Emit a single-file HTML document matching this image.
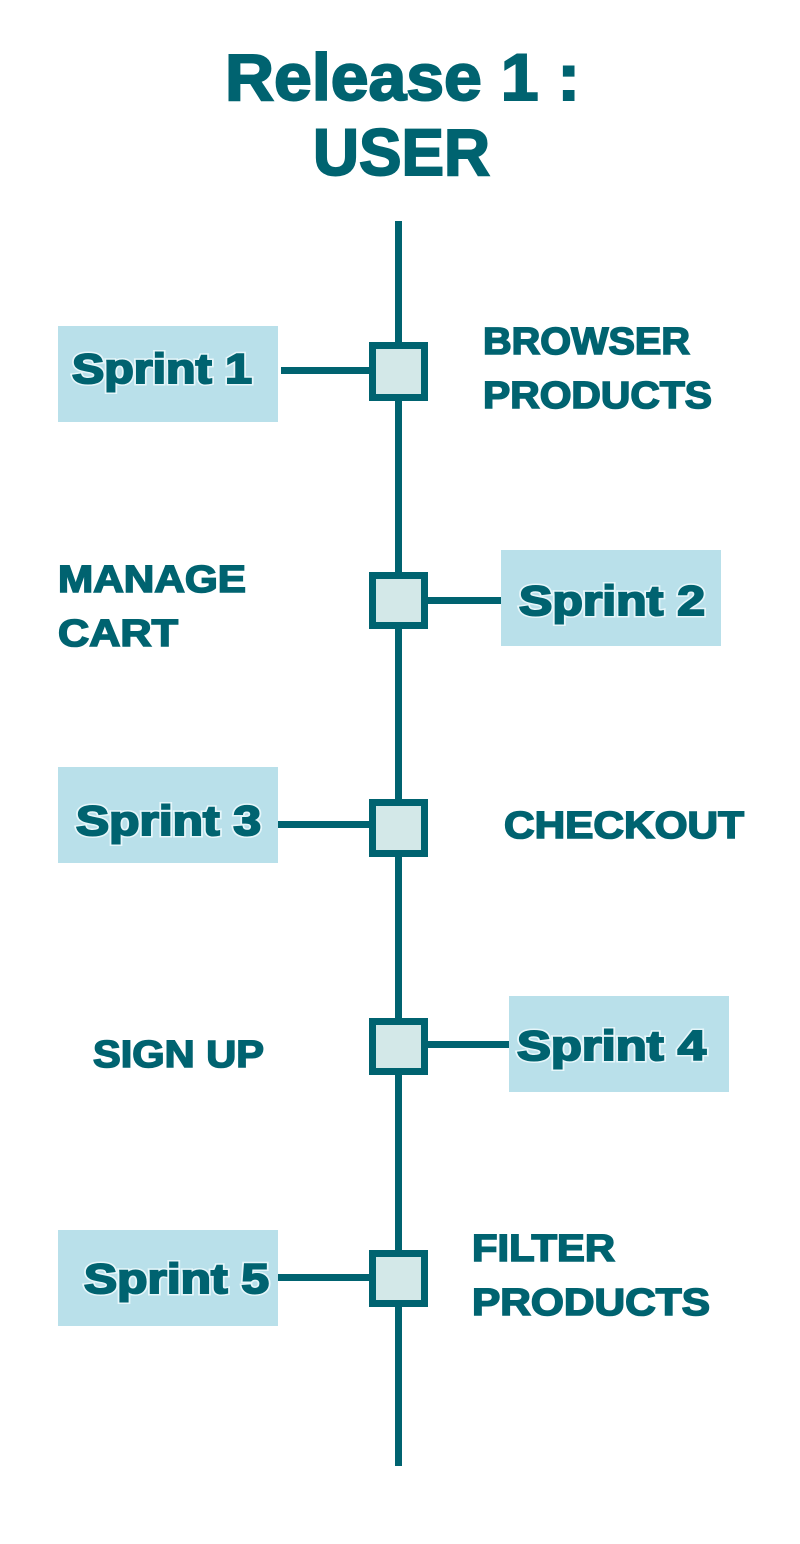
<!DOCTYPE html>
<html><head><meta charset="utf-8"><style>
html,body{margin:0;padding:0;background:#fff;width:800px;height:1544px;overflow:hidden}
svg{display:block}
text{font-family:"Liberation Sans",sans-serif;font-weight:bold;fill:#006370}
.s{font-size:42px}
.sb{stroke:#e6f6fa;stroke-width:5px}
.sf{stroke:#006370;stroke-width:2px}
.l{font-size:38px;stroke:#006370;stroke-width:1.6px}
.t{stroke:#006370;stroke-width:2px}
</style></head><body>
<svg width="800" height="1544" viewBox="0 0 800 1544">
<text class="t" x="225" y="100" font-size="66" textLength="355" lengthAdjust="spacingAndGlyphs">Release 1 :</text>
<text class="t" x="313" y="175" font-size="66" textLength="177" lengthAdjust="spacingAndGlyphs">USER</text>

<rect x="395" y="221" width="7" height="1245" fill="#006370"/>

<!-- Sprint 1 -->
<rect x="58" y="326" width="220" height="96" fill="#b9e0ea"/>
<rect x="281" y="367" width="90" height="7" fill="#006370"/>
<rect x="372.5" y="345.5" width="52" height="52" fill="#d3e8e8" stroke="#006370" stroke-width="7"/>
<text class="s sb" x="72" y="383" textLength="180" lengthAdjust="spacingAndGlyphs">Sprint 1</text>
<text class="s sf" x="72" y="383" textLength="180" lengthAdjust="spacingAndGlyphs">Sprint 1</text>
<text class="l" x="483" y="354" textLength="207" lengthAdjust="spacingAndGlyphs">BROWSER</text>
<text class="l" x="483" y="408" textLength="229" lengthAdjust="spacingAndGlyphs">PRODUCTS</text>

<!-- Sprint 2 -->
<rect x="501" y="550" width="220" height="96" fill="#b9e0ea"/>
<rect x="425" y="597" width="76" height="7" fill="#006370"/>
<rect x="372.5" y="575.5" width="52" height="50" fill="#d3e8e8" stroke="#006370" stroke-width="7"/>
<text class="s sb" x="519" y="615" textLength="186" lengthAdjust="spacingAndGlyphs">Sprint 2</text>
<text class="s sf" x="519" y="615" textLength="186" lengthAdjust="spacingAndGlyphs">Sprint 2</text>
<text class="l" x="58" y="592" textLength="188" lengthAdjust="spacingAndGlyphs">MANAGE</text>
<text class="l" x="58" y="646" textLength="120" lengthAdjust="spacingAndGlyphs">CART</text>

<!-- Sprint 3 -->
<rect x="58" y="767" width="220" height="96" fill="#b9e0ea"/>
<rect x="278" y="821" width="94" height="7" fill="#006370"/>
<rect x="372.5" y="802.5" width="52" height="51" fill="#d3e8e8" stroke="#006370" stroke-width="7"/>
<text class="s sb" x="76" y="835" textLength="185" lengthAdjust="spacingAndGlyphs">Sprint 3</text>
<text class="s sf" x="76" y="835" textLength="185" lengthAdjust="spacingAndGlyphs">Sprint 3</text>
<text class="l" x="504" y="838" textLength="240" lengthAdjust="spacingAndGlyphs">CHECKOUT</text>

<!-- Sprint 4 -->
<rect x="509" y="996" width="220" height="96" fill="#b9e0ea"/>
<rect x="425" y="1041" width="84" height="7" fill="#006370"/>
<rect x="372.5" y="1021.5" width="52" height="50" fill="#d3e8e8" stroke="#006370" stroke-width="7"/>
<text class="s sb" x="517" y="1060" textLength="189" lengthAdjust="spacingAndGlyphs">Sprint 4</text>
<text class="s sf" x="517" y="1060" textLength="189" lengthAdjust="spacingAndGlyphs">Sprint 4</text>
<text class="l" x="93" y="1067" textLength="171" lengthAdjust="spacingAndGlyphs">SIGN UP</text>

<!-- Sprint 5 -->
<rect x="58" y="1230" width="220" height="96" fill="#b9e0ea"/>
<rect x="278" y="1274" width="94" height="7" fill="#006370"/>
<rect x="372.5" y="1253.5" width="52" height="50" fill="#d3e8e8" stroke="#006370" stroke-width="7"/>
<text class="s sb" x="84" y="1293" textLength="185" lengthAdjust="spacingAndGlyphs">Sprint 5</text>
<text class="s sf" x="84" y="1293" textLength="185" lengthAdjust="spacingAndGlyphs">Sprint 5</text>
<text class="l" x="472" y="1261" textLength="143" lengthAdjust="spacingAndGlyphs">FILTER</text>
<text class="l" x="472" y="1315" textLength="238" lengthAdjust="spacingAndGlyphs">PRODUCTS</text>
</svg>
</body></html>
